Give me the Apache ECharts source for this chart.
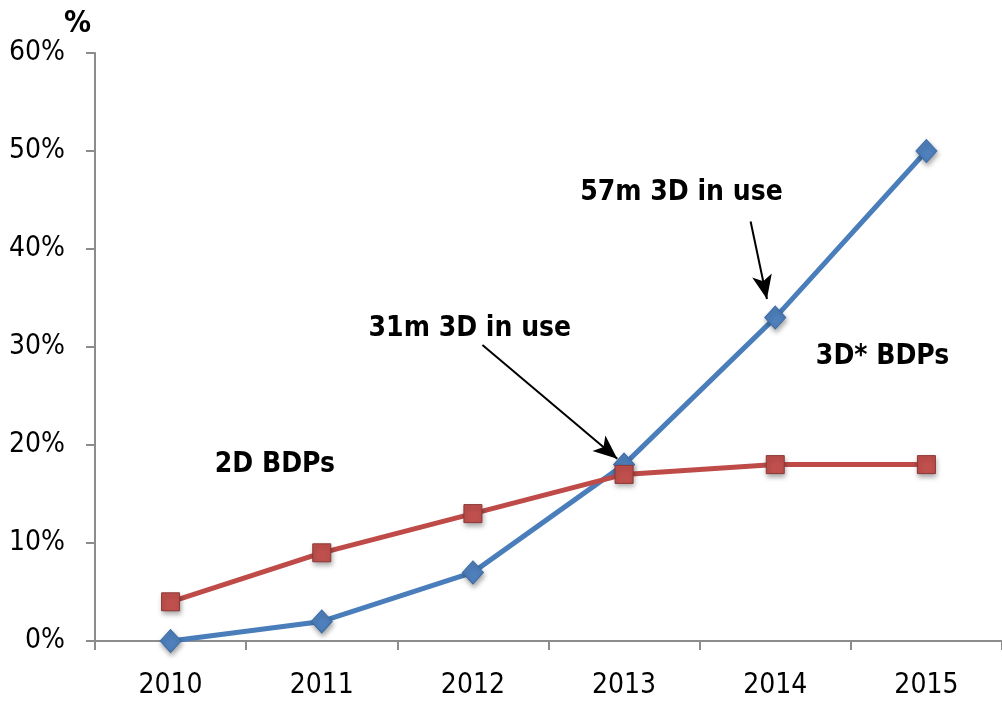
<!DOCTYPE html>
<html>
<head>
<meta charset="utf-8">
<script src="https://cdn.jsdelivr.net/npm/echarts@6/dist/echarts.min.js"></script>
<style>
  html, body { margin: 0; padding: 0; background: #fff; }
  #chart { width: 1002px; height: 701px; }
</style>
</head>
<body>
<div id="chart"></div>
<script>
  // data
  var years = ['2010', '2011', '2012', '2013', '2014', '2015'];
  var bdp3d = [0, 2, 7, 18, 33, 50];
  var bdp2d = [4, 9, 13, 17, 18, 18];
  var yTicks = [0, 10, 20, 30, 40, 50, 60];

  // annotations in data units (x = category index, y = %)
  var notes = [
    { text: '57m 3D in use', x: 3.38, y: 45.7 },
    { text: '31m 3D in use', x: 1.98, y: 31.9 },
    { text: '3D* BDPs', x: 4.71, y: 29.0 },
    { text: '2D BDPs', x: 0.69, y: 18.0 }
  ];
  var arrows = [
    [[3.837, 42.8], [3.945, 34.9]],
    [[2.063, 30.2], [2.955, 18.6]]
  ];

  var font = '"DejaVu Sans Condensed", "DejaVu Sans", sans-serif';
  var chart = echarts.init(document.getElementById('chart'));

  var option = {
    animation: false,
    backgroundColor: '#fff',
    grid: { left: 95, top: 53, width: 913, bottom: 60, containLabel: false },
    xAxis: [{
      type: 'category',
      data: years,
      boundaryGap: true,
      axisLine: { onZero: false, lineStyle: { color: '#8c8c8c', width: 2 } },
      axisTick: { show: true, length: 9, lineStyle: { color: '#8c8c8c', width: 2 } },
      axisLabel: { color: '#000', fontSize: 28, fontFamily: font, margin: 31 },
      splitLine: { show: false }
    }, {
      type: 'value', min: -0.5, max: 5.5, show: false
    }],
    yAxis: {
      type: 'value',
      min: yTicks[0],
      max: yTicks[yTicks.length - 1],
      interval: 10,
      name: '%',
      nameLocation: 'end',
      nameGap: 8,
      nameTextStyle: { color: '#000', fontSize: 30, fontWeight: 'bold', fontFamily: font, align: 'right', padding: [0, 4, 0, 0] },
      axisLine: { show: true, onZero: false, lineStyle: { color: '#8c8c8c', width: 2 } },
      axisTick: { show: true, length: 9, lineStyle: { color: '#8c8c8c', width: 2 } },
      axisLabel: { color: '#000', fontSize: 28, fontFamily: font, margin: 30, formatter: '{value}%' },
      splitLine: { show: false }
    },
    series: [{
      name: '3D BDPs',
      type: 'line',
      data: bdp3d,
      symbol: 'diamond',
      symbolSize: [21, 23],
      lineStyle: { color: '#4a7ebb', width: 5 },
      itemStyle: {
        color: '#4f81bd', borderColor: '#3d6ba3', borderWidth: 1,
        shadowColor: 'rgba(0,0,0,0.35)', shadowBlur: 5, shadowOffsetX: 1, shadowOffsetY: 3
      },
      z: 3
    }, {
      name: '2D BDPs',
      type: 'line',
      data: bdp2d,
      symbol: 'rect',
      symbolSize: 18,
      lineStyle: { color: '#be4b48', width: 5 },
      itemStyle: {
        color: '#c0504d', borderColor: '#8c3836', borderWidth: 1,
        shadowColor: 'rgba(0,0,0,0.35)', shadowBlur: 5, shadowOffsetX: 1, shadowOffsetY: 3
      },
      z: 4
    }, {
      name: 'notes',
      type: 'scatter',
      xAxisIndex: 1,
      symbolSize: 0,
      itemStyle: { opacity: 1 },
      data: notes.map(function (n) { return { value: [n.x, n.y], name: n.text }; }),
      label: {
        show: true, position: 'inside', formatter: '{b}',
        color: '#000', fontSize: 28, fontWeight: 'bold', fontFamily: font,
        textBorderWidth: 0
      },
      silent: true,
      z: 5
    }, {
      name: 'arrows',
      type: 'line',
      xAxisIndex: 1,
      data: [],
      markLine: {
        silent: true,
        symbol: ['none', 'arrow'],
        symbolSize: [15, 24],
        label: { show: false },
        lineStyle: { color: '#000', width: 2, type: 'solid' },
        data: arrows.map(function (a) {
          return [{ coord: a[0] }, { coord: a[1] }];
        })
      },
      z: 6
    }]
  };
  chart.setOption(option);
</script>
</body>
</html>
